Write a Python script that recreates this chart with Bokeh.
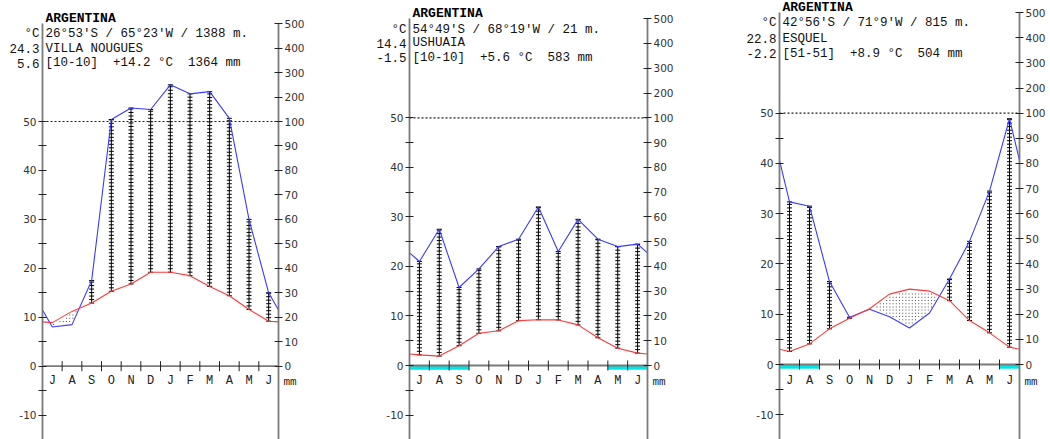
import numpy as np
from bokeh.plotting import figure
from bokeh.models import LinearAxis, FixedTicker
from bokeh.layouts import row
from bokeh.core.properties import value
from bokeh.embed import file_html
from bokeh.resources import INLINE

# ---------------- data ----------------
months = ["J", "A", "S", "O", "N", "D", "J", "F", "M", "A", "M", "J"]

countries = ["ARGENTINA", "ARGENTINA", "ARGENTINA"]
stations = ["VILLA NOUGUES", "USHUAIA", "ESQUEL"]
coords = ["26°53'S / 65°23'W / 1388 m.", "54°49'S / 68°19'W / 21 m.", "42°56'S / 71°9'W / 815 m."]
periods = ["[10-10]", "[10-10]", "[51-51]"]
mean_temps = ["+14.2", "+5.6", "+8.9"]
annual_precs = ["1364", "583", "504"]
max_warm = ["24.3", "14.4", "22.8"]
min_cold = ["5.6", "-1.5", "-2.2"]

temp_villa = [8.9, 11.2, 12.9, 15.3, 16.8, 19.2, 19.2, 18.5, 16.3, 14.4, 11.6, 9.2]
prec_villa = [16, 17, 35, 108, 155, 149, 250, 213, 222, 113, 60, 30]
frost_villa = [0, 0, 0, 0, 0, 0, 0, 0, 0, 0, 0, 0]

temp_ushuaia = [2.15, 1.9, 4.0, 6.5, 7.0, 9.05, 9.25, 9.2, 8.2, 5.6, 3.5, 2.5]
prec_ushuaia = [42, 55, 31.5, 39, 48, 51, 64, 46, 59, 51, 48, 49]
frost_ushuaia = [1, 1, 1, 0, 0, 0, 0, 0, 0, 0, 1, 1]

temp_esquel = [2.6, 4.1, 7.1, 9.2, 11.1, 14.0, 15.0, 14.6, 12.7, 8.75, 6.3, 3.45]
prec_esquel = [64.7, 63, 33, 18.8, 22, 19, 14.5, 20.5, 34, 49, 69, 97.8]
frost_esquel = [1, 1, 0, 0, 0, 0, 0, 0, 0, 0, 0, 1]

left_ticks = list(range(-15, 55, 5))
right_ticks_mm = [0, 10, 20, 30, 40, 50, 60, 70, 80, 90, 100, 200, 300, 400, 500]

temps = [temp_villa, temp_ushuaia, temp_esquel]
precs = [prec_villa, prec_ushuaia, prec_esquel]
frosts = [frost_villa, frost_ushuaia, frost_esquel]

# ---------------- layout (pixels) ----------------
# width: figure width; ax: left axis px within figure; fw: px between the two axes
panels = [
    dict(width=365, ax=42, fw=236, y0=365.7, ppd=4.894, head=[18.3, 33.3, 48.3, 62.7]),
    dict(width=375, ax=44, fw=238, y0=365.0, ppd=4.954, head=[13.3, 29.3, 42.7, 57.3]),
    dict(width=310, ax=39, fw=240, y0=364.0, ppd=5.026, head=[7.3, 22.7, 38.3, 53.3]),
]
H = 439
MONO = "Liberation Mono"
SANS = "DejaVu Sans"
NB = "\u00a0"


def mm2y(mm):
    mm = np.asarray(mm, dtype=float)
    return np.where(mm <= 100, mm / 2.0, 50 + (mm - 100) / 20.0)


def extend(vals):
    vals = np.asarray(vals, dtype=float)
    edge = (vals[0] + vals[-1]) / 2.0
    return np.concatenate([[edge], vals, [edge]])


centers = np.arange(12) + 0.5
ext_x = np.concatenate([[0.0], centers, [12.0]])

figs = []
for i, g in enumerate(panels):
    y0, ppd = g["y0"], g["ppd"]
    top = y0 / ppd
    bottom = (y0 - H) / ppd
    m = g["fw"] / 12.0
    x_start = -g["ax"] / m
    x_end = (g["width"] - g["ax"]) / m

    def py(ref_y):
        return (y0 - ref_y) / ppd

    p = figure(width=g["width"], height=H, x_range=(x_start, x_end), y_range=(bottom, top),
               x_axis_location=None, y_axis_location=None,
               toolbar_location=None, output_backend="svg",
               min_border_left=0, min_border_right=0,
               min_border_top=0, min_border_bottom=0,
               outline_line_color=None, background_fill_color="white",
               border_fill_color="white")
    p.xgrid.visible = False
    p.ygrid.visible = False

    # axes (placed at month 0 and month 12)
    left = LinearAxis(ticker=FixedTicker(ticks=left_ticks),
                      major_label_overrides={t: (str(t) if t % 10 == 0 else "") for t in left_ticks},
                      bounds=(bottom - 1, 70), fixed_location=0)
    rpos = [float(v) for v in mm2y(right_ticks_mm)]
    right = LinearAxis(ticker=FixedTicker(ticks=rpos),
                       major_label_overrides={pos: str(mm) for pos, mm in zip(rpos, right_ticks_mm)},
                       bounds=(bottom - 1, 70), fixed_location=12)
    for axis in (left, right):
        axis.axis_line_color = "#7a7a7a"
        axis.axis_line_width = 1.8
        axis.major_tick_in = 4
        axis.major_tick_out = 4
        axis.major_tick_line_color = "#222222"
        axis.minor_tick_line_color = None
        axis.major_label_text_font = SANS
        axis.major_label_text_font_size = "10.5px"
        axis.major_label_text_color = "#333333"
        axis.major_label_standoff = 2

    t = np.asarray(temps[i], dtype=float)
    pr = mm2y(precs[i])
    et = extend(t)
    ep = extend(pr)

    # frost months
    fr = np.asarray(frosts[i])
    fidx = np.where(fr == 1)[0]
    if len(fidx):
        p.quad(left=fidx, right=fidx + 1, top=0, bottom=-4.2 / ppd,
               fill_color="#00e5e8", line_color=None)

    # dry period dots
    dx = 3.2 / m
    dy = 3.2 / ppd
    gx = np.arange(dx / 2, 12, dx)
    gy = np.arange(0, 70, dy)
    XX, YY = np.meshgrid(gx, gy)
    PV = np.interp(XX, ext_x, ep)
    TV = np.interp(XX, ext_x, et)
    mask = (YY > PV + 0.4) & (YY < TV - 0.4)
    if mask.any():
        p.scatter(XX[mask], YY[mask], marker="square", size=1,
                  fill_color="#555555", line_color=None)

    # humid hatching
    step = 3.5 / ppd
    hx, hy = [], []
    for k in range(12):
        if pr[k] > t[k]:
            p.segment(x0=centers[k], x1=centers[k], y0=t[k], y1=pr[k],
                      line_color="black", line_width=1)
            ys = np.arange(t[k], pr[k], step)
            ys = np.append(ys, pr[k])
            hx.extend([centers[k]] * len(ys))
            hy.extend(ys.tolist())
    if hx:
        p.scatter(hx, hy, marker="dash", size=5, line_color="black", line_width=1)

    # reference lines: 100 mm dashed, zero line, month ticks
    p.segment(x0=0, x1=12, y0=50, y1=50, line_color="#222222", line_dash="2 2", line_width=1.2)
    p.segment(x0=0, x1=12, y0=0, y1=0, line_color="#7a7a7a", line_width=1.8)
    tk = np.arange(1, 12)
    p.segment(x0=tk, x1=tk, y0=-5 / ppd, y1=5 / ppd, line_color="#222222", line_width=1)

    # curves
    p.line(ext_x, ep, line_color="#3a3aff", line_width=1.1)
    p.line(ext_x, et, line_color="#ff3a3a", line_width=1.1)

    p.add_layout(left, "left")
    p.add_layout(right, "right")

    # month labels
    p.text(x=centers, y=[py(380.7)] * 12, text=months, text_font=value(MONO),
           text_font_size="12px", text_align="center", text_baseline="middle",
           text_color="#222222")
    p.text(x=[12], y=[py(381.5)], x_offset=5, text=["mm"], text_font=value(MONO),
           text_font_size="11px", text_align="left", text_baseline="middle",
           text_color="#222222")

    # header
    h = g["head"]
    p.text(x=[0], y=[py(h[0])], x_offset=3, text=[countries[i]], text_font=value(MONO),
           text_font_style="bold", text_font_size="13px",
           text_baseline="middle", text_color="black")
    rows_right = [coords[i], stations[i],
                  f"{periods[i]}{NB}{NB}{mean_temps[i]} °C{NB}{NB}{annual_precs[i]} mm"]
    rows_left = ["°C", max_warm[i], min_cold[i]]
    p.text(x=[0] * 3, y=[py(v) for v in h[1:]], x_offset=3, text=rows_right,
           text_font=value(MONO), text_font_size="12.5px",
           text_baseline="middle", text_color="#111111")
    p.text(x=[0] * 3, y=[py(v) for v in h[1:]], x_offset=-3, text=rows_left,
           text_font=value(MONO), text_font_size="12.5px", text_align="right",
           text_baseline="middle", text_color="#111111")
    figs.append(p)

layout = row(*figs)
open("out.html", "w").write(file_html(layout, INLINE))
